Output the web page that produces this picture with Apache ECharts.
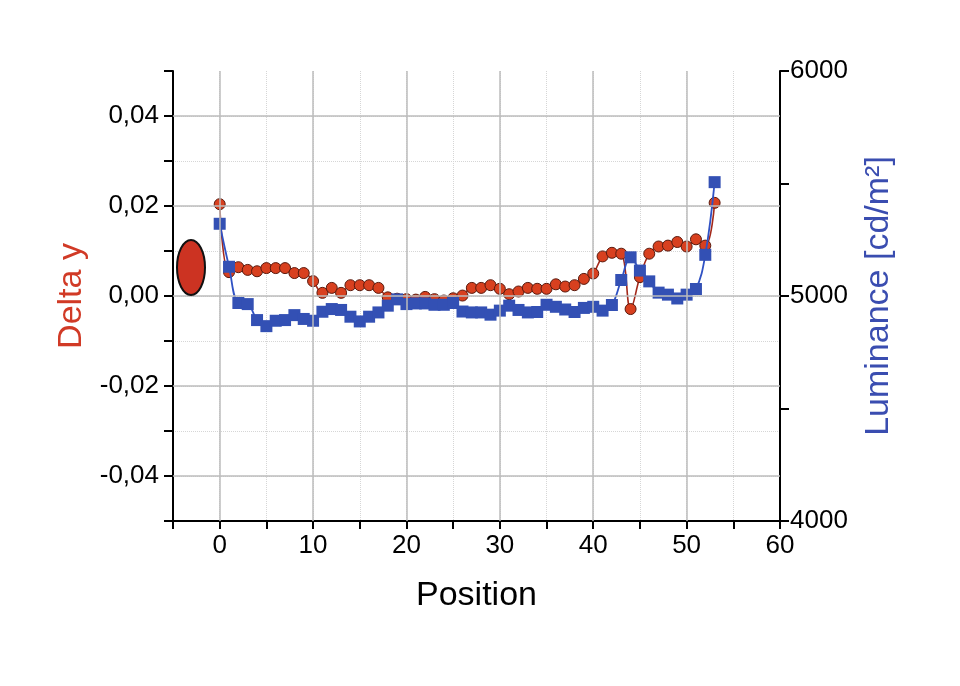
<!DOCTYPE html>
<html>
<head>
<meta charset="utf-8">
<script src="https://cdn.jsdelivr.net/npm/echarts@6/dist/echarts.min.js"></script>
<style>html,body{margin:0;padding:0;background:#fff}#c{width:960px;height:686px}</style>
</head>
<body>
<div id="c"></div>
<script>
const positions = [0,1,2,3,4,5,6,7,8,9,10,11,12,13,14,15,16,17,18,19,20,21,22,23,24,25,26,27,28,29,30,31,32,33,34,35,36,37,38,39,40,41,42,43,44,45,46,47,48,49,50,51,52,53];
const deltaY = [0.0204,0.0053,0.0064,0.0058,0.0055,0.0062,0.0062,0.0062,0.0051,0.0051,
  0.0033,0.0007,0.0018,0.0007,0.0024,0.0024,0.0024,0.0018,-0.0003,-0.0006,
  -0.0007,-0.0008,-0.0002,-0.0007,-0.0010,-0.0005,0.0001,0.0018,0.0018,0.0024,
  0.0016,0.0004,0.0010,0.0018,0.0016,0.0016,0.0026,0.0021,0.0024,0.0038,
  0.0050,0.0088,0.0096,0.0094,-0.0029,0.0042,0.0094,0.0110,0.0112,0.0120,
  0.0110,0.0126,0.0112,0.0207];
const luminance = [5321,5130,4969,4964,4893,4866,4890,4893,4915,4898,
  4890,4930,4942,4938,4908,4887,4908,4927,4957,4985,
  4964,4967,4967,4961,4961,4969,4931,4927,4927,4917,
  4935,4957,4938,4927,4929,4961,4952,4940,4929,4947,
  4952,4935,4960,5071,5172,5113,5065,5015,5006,4989,
  5006,5031,5183,5506];
const xMajorGrid = [0,10,20,30,40,50];
const yMajorGrid = [-0.04,-0.02,0,0.02,0.04];

const FONT = '"Liberation Sans", Arial, sans-serif';
const chart = echarts.init(document.getElementById('c'));

const gridLineStyle = {color:'#bdbdbd', width:1.5, type:'solid'};

chart.setOption({
  animation:false,
  backgroundColor:'#fff',
  textStyle:{fontFamily:FONT},
  grid:{left:173,right:180,top:71,bottom:165,containLabel:false},
  xAxis:{
    type:'value', min:-5, max:60, interval:5,
    name:'Position', nameLocation:'middle', nameGap:58,
    nameTextStyle:{fontSize:34,color:'#000',fontFamily:FONT},
    axisLine:{show:true,onZero:false,lineStyle:{color:'#000',width:2}},
    axisTick:{show:true,inside:false,length:8,lineStyle:{color:'#000',width:2}},
    axisLabel:{fontSize:26,color:'#000',margin:12,fontFamily:FONT,
      formatter:v=> (Math.round(v)%10===0 && v>=0) ? String(Math.round(v)) : ''},
    splitLine:{show:true,showMinLine:false,showMaxLine:false,lineStyle:{color:'#d6d6d6',width:1,type:'dotted'}}
  },
  yAxis:[{
    type:'value', min:-0.05, max:0.05, interval:0.01, position:'left',
    name:'Delta y', nameLocation:'middle', nameGap:82, nameRotate:90,
    nameTextStyle:{fontSize:34,color:'#d13a26',fontFamily:FONT},
    axisLine:{show:true,onZero:false,lineStyle:{color:'#000',width:2}},
    axisTick:{show:true,inside:false,length:9,lineStyle:{color:'#000',width:2}},
    axisLabel:{fontSize:26,color:'#000',margin:14,fontFamily:FONT,
      formatter:v=>{const k=Math.round(v*100); if(k%2!==0||Math.abs(k)===5) return ''; return (k/100).toFixed(2).replace('.',',');}},
    splitLine:{show:true,showMinLine:false,showMaxLine:false,lineStyle:{color:'#d6d6d6',width:1,type:'dotted'}}
  },{
    type:'value', min:4000, max:6000, interval:500, position:'right',
    name:'Luminance [cd/m²]', nameLocation:'middle', nameGap:82, nameRotate:90,
    nameTextStyle:{fontSize:34,color:'#3a4db0',fontFamily:FONT},
    axisLine:{show:true,onZero:false,lineStyle:{color:'#000',width:2}},
    axisTick:{show:true,inside:false,length:9,lineStyle:{color:'#000',width:2}},
    axisLabel:{fontSize:26,color:'#000',margin:10,fontFamily:FONT,
      formatter:v=> (Math.round(v)%1000===0) ? String(Math.round(v)) : ''},
    splitLine:{show:false}
  }],
  graphic:[{
    type:'ellipse', shape:{cx:191,cy:267.5,rx:14,ry:27.5},
    style:{fill:'#cc3322',stroke:'#111',lineWidth:2}, z:10
  }],
  series:[{
    type:'line', name:'grid', data:[], silent:true, z:1,
    markLine:{silent:true,symbol:['none','none'],label:{show:false},
      lineStyle:gridLineStyle,
      data: xMajorGrid.map(v=>({xAxis:v})).concat(yMajorGrid.map(v=>({yAxis:v})))}
  },{
    type:'line', name:'Delta y', yAxisIndex:0, z:3,
    data: positions.map((p,i)=>[p, deltaY[i]]),
    smooth:0.4, symbol:'circle', symbolSize:11,
    lineStyle:{color:'#a3281a',width:1.6},
    itemStyle:{color:'#d8401f',borderColor:'#5a1a0e',borderWidth:1}
  },{
    type:'line', name:'Luminance', yAxisIndex:1, z:4,
    data: positions.map((p,i)=>[p, luminance[i]]),
    smooth:0.4, symbol:'rect', symbolSize:12,
    lineStyle:{color:'#3052c4',width:1.8},
    itemStyle:{color:'#3350b4',borderColor:'#3350b4',borderWidth:0}
  }]
});
</script>
</body>
</html>
